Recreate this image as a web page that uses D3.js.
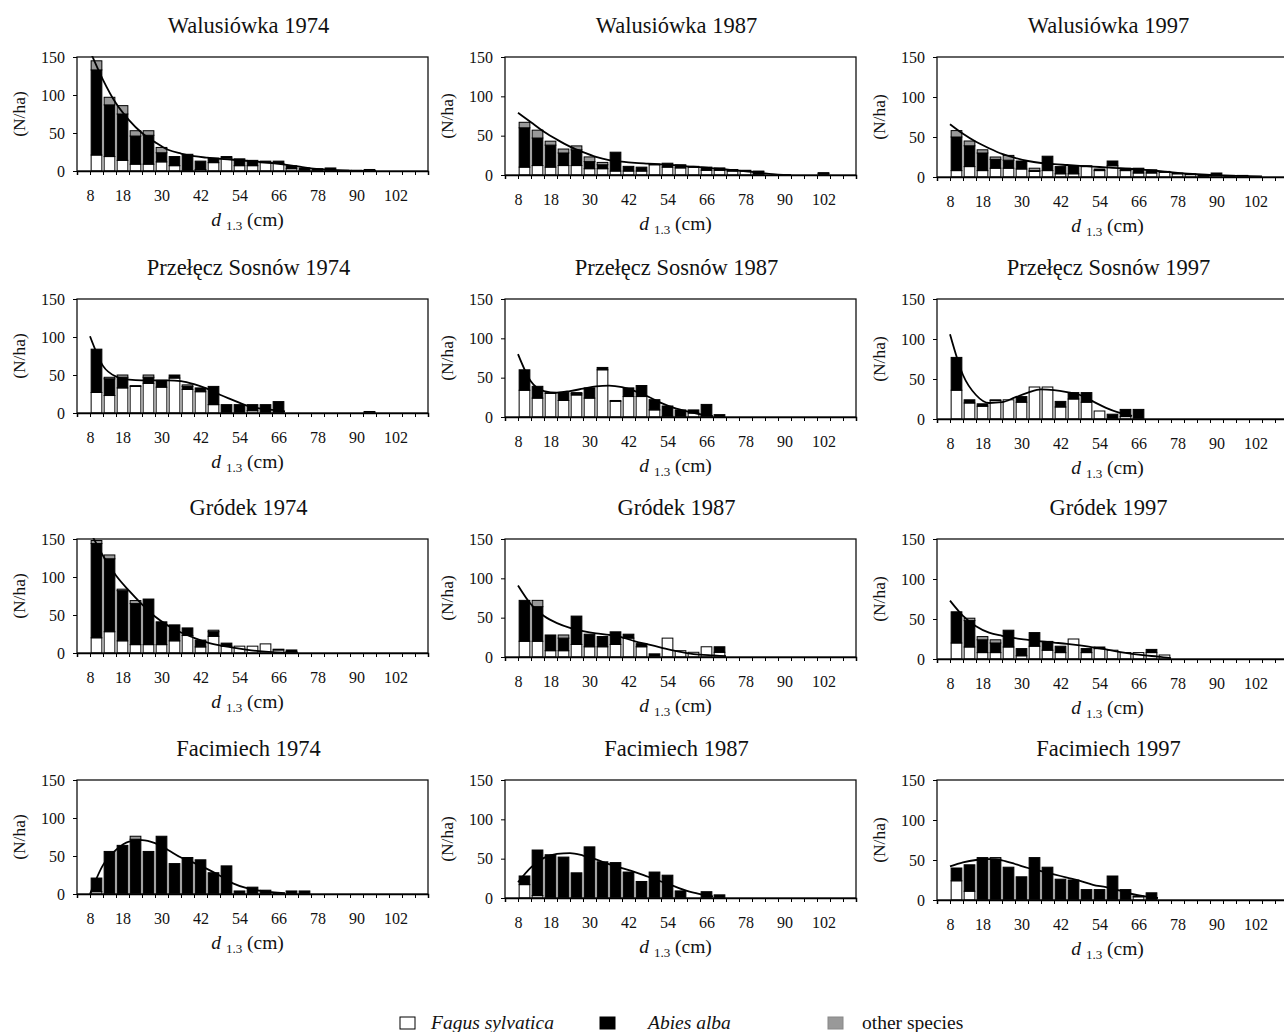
<!DOCTYPE html>
<html>
<head>
<meta charset="utf-8">
<script src="https://cdn.jsdelivr.net/npm/d3@7"></script>
<style>
  body { margin: 0; background: #fff; }
  text { font-family: "Liberation Serif", "Times New Roman", serif; fill: #111; }
</style>
</head>
<body>
<div class="chart"></div>
<script>
// diameter classes (cm, class midpoints) and fitted-curve positions
const classMid = [10,14,18,22,26,30,34,38,42,46,50,54,58,62,66,70,74,78,82,86,90,94,98,102,106,110];
const fitAt = [8,12,16,20,24,28,32,36,40,44,48,52,56,60,64,68,72,76,80,84,88,92,96,100,104];
const xLabels = [8,18,30,42,54,66,78,90,102];
const xMinor = [4,8,12,16,20,24,28,32,36,40,44,48,52,56,60,64,68,72,76,80,84,88,92,96,100,104,108,112];
const yTicks = [0,50,100,150];

const sites = ["Walusiówka","Przełęcz Sosnów","Gródek","Facimiech"];
const years = [1974,1987,1997];
const species = ["Fagus sylvatica","Abies alba","other species"];

// N/ha per class: Fagus (white), Abies (black), other species (grey), fitted curve
const w74Fagus = [21,19,14,9,9,12,7,0,2,11,17,7,7,11,10,3,1,0,0,0,0,0];
const w74Abies = [112,68,61,37,38,12,12,22,11,6,2,9,7,2,3,4,3,3,4,1,1,2];
const w74Other = [12,10,11,7,6,7,0,0,0,0,0,0,0,0,0,0,0,0,0,0,0,0];
const w74Fit   = [158,120,89,67,50,38,28,23,19.5,17.5,16,14.8,13.5,12,10.5,8.5,6,3.5,2,1,0.4,0,0];

const w87Fagus = [10,12,10,12,12,8,8,5,5,5,13,10,9,10,6,6,5,5,1,0,0,0,0,0];
const w87Abies = [50,35,28,16,20,9,5,24,6,5,1,5,4,1,4,3,2,1,3,0,0,0,0,2];
const w87Other = [7,10,5,5,5,6,3,0,0,0,0,0,0,0,0,0,0,0,1,0,0,0,0,1];
const w87Fit   = [79,67,55,45,36,29,23,19,17,15.5,14.5,13.5,12.5,11,10,8.5,7,5.5,4,2,0.5,0];

const w97Fagus = [8,13,8,11,11,10,7,8,4,4,13,8,14,8,5,5,6,4,3,1,2,1,1];
const w97Abies = [42,26,22,11,10,10,1,18,9,10,1,2,6,3,6,4,1,1,1,1,3,1,1];
const w97Other = [8,6,4,3,6,0,3,0,0,0,0,0,0,0,0,0,0,0,0,1,0,0,0];
const w97Fit   = [66,54,44,36,29,24,20,17.5,16,15,14,13,12,11,10,9,7.5,6,4.5,3.5,2.5,2,1.5,1,0.8];

const p74Fagus = [27,23,33,35,39,34,46,31,28,11,0,0,3,0,1,0,0,0,0,0,0,0];
const p74Abies = [57,22,14,1,8,9,4,4,5,24,11,11,8,11,14,0,0,0,0,0,0,1];
const p74Other = [0,2,3,0,3,0,0,2,0,0,0,0,0,0,0,0,0,0,0,0,0,1];
const p74Fit   = [101,62,48,44,43,43,43,42,38,32,24,17,10,6,4,2];

const p87Fagus = [34,24,30,21,28,24,60,20,26,26,9,1,0,5,1,0];
const p87Abies = [26,15,0,10,2,13,3,1,11,14,13,13,9,4,15,3];
const p87Other = [0,0,1,0,1,0,0,0,0,0,0,0,0,0,0,0];
const p87Fit   = [80,45,33,31,33,36,39,40,38,33,26,18,11.5,7,3.5,1];

const p97Fagus = [36,20,16,23,24,21,40,40,15,25,21,10,0,3,0];
const p97Abies = [41,4,3,0,0,7,0,0,7,8,12,0,6,9,12];
const p97Other = [0,0,0,1,0,0,0,0,0,0,0,0,0,0,0];
const p97Fit   = [106,55,30,20,21,27,33,37,36,33.5,30,22,14,8,4];

const g74Fagus = [20,28,16,11,11,11,16,23,8,22,9,9,9,12,4,2];
const g74Abies = [124,96,66,54,60,30,21,10,9,6,4,0,0,0,1,2];
const g74Other = [4,5,2,4,0,0,0,0,0,2,0,0,0,0,0,0];
const g74Fit   = [160,128,102,82,64,48,36,27,20,14,10,7,4.5,2.5,1.2,0.5,0];

const g87Fagus = [20,20,8,8,16,13,13,16,24,13,0,24,8,6,13,6];
const g87Abies = [52,44,20,16,36,16,13,16,5,4,4,0,0,0,0,7];
const g87Other = [0,8,0,4,0,0,0,0,0,0,0,0,0,0,0,0];
const g87Fit   = [91,67,52,43,37,33,30,28,25,20,16,12,8,5,3,2,1];

const g97Fagus = [20,15,8,8,15,4,16,11,8,25,8,13,11,8,8,8,5];
const g97Abies = [39,33,16,12,21,9,17,11,8,0,5,2,0,0,0,4,0];
const g97Other = [0,3,4,4,0,0,0,0,0,0,0,0,0,0,0,0,0];
const g97Fit   = [73,54,41,33,29,26,24,22,20.5,19,17,14.5,12,9,6.5,4.5,3,1];

const f74Fagus = [3,0,0,0,0,0,0,0,0,0,0,0,0,0,0,0,0];
const f74Abies = [18,56,64,72,56,76,40,48,45,28,37,4,9,5,1,4,4];
const f74Other = [0,0,0,4,0,0,0,0,0,0,0,0,0,0,0,0,0];
const f74Fit   = [0,38,58,69,71,67,58,48,41,33,24,14,8,4.5,2.5,1];

const f87Fagus = [17,3,0,0,0,0,0,0,0,0,0,0,0,0,0,0];
const f87Abies = [11,58,55,52,32,65,46,45,33,21,33,29,9,0,8,4];
const f87Other = [0,0,0,0,0,0,0,0,0,0,0,0,0,0,0,0];
const f87Fit   = [20,39,51,56,57,54,49,43,38,33,27,21,15,9,5,2];

const f97Fagus = [24,11,0,0,0,0,0,0,0,0,0,0,0,0,4,0];
const f97Abies = [16,33,53,51,41,29,53,41,26,25,13,13,30,13,1,9];
const f97Other = [0,0,0,2,0,0,0,0,0,0,0,0,0,0,0,0];
const f97Fit   = [42,47,50,51,49.5,45,40,36,32,28,24,19,16,12,7.5,4.5,2.5];

const panels = [
  [w74Fagus,w74Abies,w74Other,w74Fit], [w87Fagus,w87Abies,w87Other,w87Fit], [w97Fagus,w97Abies,w97Other,w97Fit],
  [p74Fagus,p74Abies,p74Other,p74Fit], [p87Fagus,p87Abies,p87Other,p87Fit], [p97Fagus,p97Abies,p97Other,p97Fit],
  [g74Fagus,g74Abies,g74Other,g74Fit], [g87Fagus,g87Abies,g87Other,g87Fit], [g97Fagus,g97Abies,g97Other,g97Fit],
  [f74Fagus,f74Abies,f74Other,f74Fit], [f87Fagus,f87Abies,f87Other,f87Fit], [f97Fagus,f97Abies,f97Other,f97Fit]
];

const keys = ["fagus","abies","other"];
const fills = {fagus: "#fff", abies: "#000", other: "#999"};

const cols = [{left: 77, h: 114}, {left: 505, h: 118}, {left: 937, h: 120}];
const rowTops = [57, 299, 539, 780];
const pxPerCm = 3.25;

const svg = d3.select(".chart").append("svg")
  .attr("width", 1284)
  .attr("height", 1032);

panels.forEach((p, i) => {
  const r = Math.floor(i / 3), c = i % 3;
  const col = cols[c], top = rowTops[r];
  const w = 108 * pxPerCm;

  const x = d3.scaleLinear().domain([4, 112]).range([col.left, col.left + w]);
  const y = d3.scaleLinear().domain([0, 150]).range([top + col.h, top]);

  const g = svg.append("g");

  // title
  g.append("text")
    .attr("x", col.left + w / 2 - 4)
    .attr("y", top - 24)
    .attr("text-anchor", "middle")
    .attr("font-size", 22.5)
    .text(sites[r] + " " + years[c]);

  // bars
  const n = Math.max(p[0].length, p[1].length, p[2].length);
  const rows = d3.range(n).map(k => ({
    d: classMid[k], fagus: p[0][k] || 0, abies: p[1][k] || 0, other: p[2][k] || 0
  }));
  const series = d3.stack().keys(keys)(rows);
  const bw = x(3.3) - x(0);

  g.selectAll("g.layer")
    .data(series)
    .join("g")
    .attr("class", "layer")
    .attr("fill", s => fills[s.key])
    .selectAll("rect")
    .data(s => s.filter(d => d[1] - d[0] > 0))
    .join("rect")
    .attr("x", d => x(d.data.d) - bw / 2)
    .attr("width", bw)
    .attr("y", d => y(d[1]))
    .attr("height", d => y(d[0]) - y(d[1]))
    .attr("stroke", "#000")
    .attr("stroke-width", 1);

  // fitted curve, clipped to the plot frame
  const clipId = "clip" + i;
  svg.append("clipPath").attr("id", clipId)
    .append("rect")
    .attr("x", col.left).attr("y", top - 1)
    .attr("width", w).attr("height", col.h + 1);

  const line = d3.line()
    .x((v, k) => x(fitAt[k]))
    .y(v => y(v))
    .curve(d3.curveMonotoneX);

  g.append("path")
    .datum(p[3])
    .attr("d", line)
    .attr("fill", "none")
    .attr("stroke", "#000")
    .attr("stroke-width", 1.8)
    .attr("clip-path", "url(#" + clipId + ")");

  // frame
  g.append("rect")
    .attr("x", col.left).attr("y", top)
    .attr("width", w).attr("height", col.h)
    .attr("fill", "none")
    .attr("stroke", "#111")
    .attr("stroke-width", 1.3);

  // x minor ticks
  g.append("g")
    .attr("transform", `translate(0,${top + col.h})`)
    .call(d3.axisBottom(x).tickValues(xMinor).tickSize(4).tickFormat(""))
    .call(a => a.select(".domain").attr("stroke-width", 1.5));

  // x labels
  g.append("g")
    .attr("transform", `translate(0,${top + col.h})`)
    .call(d3.axisBottom(x).tickValues(xLabels).tickSize(0).tickPadding(19))
    .call(a => a.select(".domain").remove())
    .call(a => a.selectAll("text")
      .attr("font-family", "Liberation Serif, serif")
      .attr("font-size", 16)
      .attr("fill", "#111"));

  // y axis
  g.append("g")
    .attr("transform", `translate(${col.left},0)`)
    .call(d3.axisLeft(y).tickValues(yTicks).tickSize(4).tickPadding(8))
    .call(a => a.select(".domain").remove())
    .call(a => a.selectAll("text")
      .attr("font-family", "Liberation Serif, serif")
      .attr("font-size", 16)
      .attr("fill", "#111"));

  // y title
  g.append("text")
    .attr("transform", `translate(${col.left - 52},${top + col.h / 2}) rotate(-90)`)
    .attr("text-anchor", "middle")
    .attr("font-size", 17.5)
    .text("(N/ha)");

  // x title
  const xt = g.append("text")
    .attr("x", col.left + w / 2 - 5)
    .attr("y", top + col.h + 55)
    .attr("text-anchor", "middle")
    .attr("font-size", 19.5);
  xt.append("tspan").attr("font-style", "italic").text("d");
  xt.append("tspan").attr("dx", 5).attr("dy", 4).attr("font-size", 13).text("1.3");
  xt.append("tspan").attr("dy", -4).text(" (cm)");
});

// legend
const legendX = [400, 600, 828];
const legendTextX = [431, 648, 862];
species.forEach((s, k) => {
  svg.append("rect")
    .attr("x", legendX[k]).attr("y", 1017)
    .attr("width", 15).attr("height", 12)
    .attr("fill", fills[keys[k]])
    .attr("stroke", k === 2 ? "#888" : "#000")
    .attr("stroke-width", 1);
  svg.append("text")
    .attr("x", legendTextX[k]).attr("y", 1029)
    .attr("font-size", 19.5)
    .attr("font-style", k < 2 ? "italic" : "normal")
    .text(s);
});
</script>
</body>
</html>
